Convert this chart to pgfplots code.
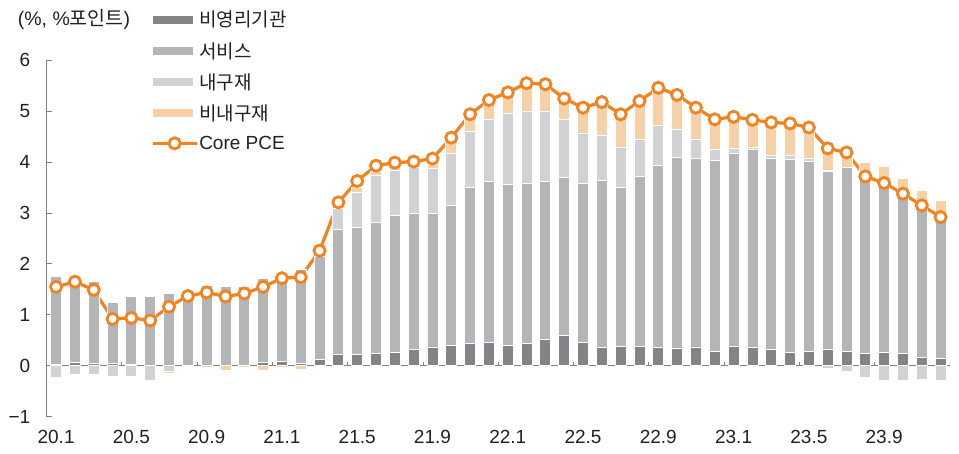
\documentclass[border=0pt]{standalone}
\usepackage{pgfplots}
\pgfplotsset{compat=1.18}
\usepackage{pgfplotstable}
\usepackage{fontspec}
\setmainfont{Liberation Sans}
\newfontfamily\kr{Noto Sans CJK KR}

\definecolor{npgray}{RGB}{130,132,135}
\definecolor{svgray}{RGB}{180,181,183}
\definecolor{dgray}{RGB}{209,210,212}
\definecolor{ndpeach}{RGB}{246,208,166}
\definecolor{pceorange}{RGB}{243,130,32}
\definecolor{axgray}{RGB}{128,128,128}
\definecolor{txt}{RGB}{35,31,32}

% 20.1 ... 23.12, contributions in %p, core PCE yoy in %
\pgfplotstableread{
x  np   sv   dur  nd   durn  ndn   core
0  0.03 1.72 0    0    -0.22 0     1.55
1  0.07 1.58 0    0    -0.17 0     1.65
2  0.04 1.61 0    0    -0.16 0     1.49
3  0.05 1.20 0    0    -0.21 0     0.92
4  0.02 1.34 0    0    -0.20 -0.02 0.94
5  0.00 1.36 0    0    -0.29 0     0.89
6  0.01 1.41 0    0    -0.12 -0.02 1.16
7  0.01 1.41 0    0    0     -0.02 1.37
8  0.01 1.57 0    0    0     -0.04 1.44
9  0.01 1.54 0    0    0     -0.09 1.36
10 0.01 1.54 0    0    0     -0.04 1.42
11 0.06 1.66 0    0    0     -0.10 1.55
12 0.08 1.70 0    0    0     -0.04 1.72
13 0.05 1.85 0    0    0     -0.08 1.74
14 0.12 2.03 0.06 0.04 0     0     2.26
15 0.22 2.45 0.43 0.10 0     0     3.21
16 0.23 2.48 0.69 0.10 0     0     3.63
17 0.25 2.57 0.92 0.07 0     0     3.93
18 0.27 2.68 0.89 0.05 0     0     3.99
19 0.32 2.68 0.89 0.06 0     0     4.01
20 0.37 2.63 0.88 0.08 0     0     4.07
21 0.40 2.75 1.02 0.21 0     0     4.48
22 0.44 3.07 1.10 0.30 0     0     4.94
23 0.46 3.16 1.21 0.37 0     0     5.22
24 0.40 3.17 1.38 0.40 0     0     5.37
25 0.44 3.15 1.40 0.55 0     0     5.55
26 0.52 3.10 1.37 0.54 0     0     5.53
27 0.60 3.10 1.13 0.42 0     0     5.25
28 0.45 3.13 0.99 0.50 0     0     5.07
29 0.36 3.28 0.89 0.65 0     0     5.18
30 0.38 3.13 0.77 0.68 0     0     4.94
31 0.38 3.34 0.73 0.75 0     0     5.20
32 0.36 3.57 0.79 0.74 0     0     5.46
33 0.35 3.74 0.55 0.68 0     0     5.32
34 0.37 3.70 0.38 0.62 0     0     5.07
35 0.29 3.74 0.22 0.61 0     0     4.84
36 0.38 3.79 0.09 0.63 0     0     4.89
37 0.36 3.89 0.03 0.55 0     0     4.83
38 0.33 3.74 0.06 0.65 0     0     4.78
39 0.26 3.79 0.08 0.63 0     0     4.76
40 0.29 3.72 0.06 0.61 0     0     4.68
41 0.32 3.50 0.02 0.43 -0.06 0     4.27
42 0.29 3.61 0    0.30 -0.11 0     4.19
43 0.24 3.48 0    0.28 -0.23 0     3.72
44 0.27 3.31 0    0.34 -0.29 0     3.59
45 0.24 3.06 0    0.38 -0.28 0     3.38
46 0.17 2.90 0    0.37 -0.27 0     3.15
47 0.14 2.73 0    0.38 -0.28 0     2.92
}\pcedata

\pgfplotsset{
  pcebase/.style={
    scale only axis, width=903.3pt, height=356.4pt,
    xmin=-0.5, xmax=47.5, ymin=-1, ymax=6,
    at={(0pt,0pt)}, anchor=south west,
    ybar stacked, bar width=11pt,
  },
  seg/.style={fill=#1, draw=white, line width=0.8pt,
    legend image code/.code={\fill[##1] (0pt,-4.5pt) rectangle (41pt,4.5pt);}},
  pceline/.style={stack plots=false, sharp plot, pceorange, line width=3.2pt,
    mark=*, mark size=5.6pt,
    mark options={fill=white, draw=pceorange, line width=2.8pt},
    legend image code/.code={\draw[mark repeat=2, mark phase=2, ##1]
      plot coordinates {(0pt,0pt) (22pt,0pt) (44pt,0pt)};}},
}

\begin{document}
\begin{tikzpicture}
\useasboundingbox (-46.7pt,-37.3pt) rectangle (912.3pt,416.7pt);

% negative contributions
\begin{axis}[pcebase, hide axis]
\addplot[seg=dgray] table[x=x,y=durn]{\pcedata};
\addplot[seg=ndpeach] table[x=x,y=ndn]{\pcedata};
\end{axis}

% positive contributions and core PCE
\begin{axis}[pcebase,
  axis y line*=left, axis x line*=bottom,
  axis line style={axgray, line width=1pt},
  x axis line style={draw=none},
  xtick={0,4,...,44},
  xticklabels={20.1,20.5,20.9,21.1,21.5,21.9,22.1,22.5,22.9,23.1,23.5,23.9},
  xtick style={draw=none},
  ytick={-1,0,...,6},
  yticklabels={−1,0,1,2,3,4,5,6},
  ytick style={axgray, line width=1pt},
  tick align=inside, major tick length=5pt,
  ticklabel style={font=\fontsize{19}{21}\selectfont, text=txt},
  yticklabel style={xshift=-13pt},
  xticklabel style={yshift=-10pt},
  legend style={at={(axis description cs:0.112,1.147)}, anchor=north west,
    draw=none, fill=none, font=\fontsize{19}{21}\selectfont, text=txt,
    row sep=12pt, nodes={inner sep=1pt}},
  legend cell align=left,
]
\addplot[seg=npgray] table[x=x,y=np]{\pcedata};
\addplot[seg=svgray] table[x=x,y=sv]{\pcedata};
\addplot[seg=dgray] table[x=x,y=dur]{\pcedata};
\addplot[seg=ndpeach] table[x=x,y=nd]{\pcedata};
\addplot[pceline] table[x=x,y=core]{\pcedata};
\legend{{\kr 비영리기관},{\kr 서비스},{\kr 내구재},{\kr 비내구재},Core PCE}

\draw[axgray, line width=1pt] (axis cs:-0.5,0) -- (axis cs:47.5,0);
\draw[axgray, line width=1pt]
  (axis cs:3.5,0) -- ++(0pt,4pt) (axis cs:7.5,0) -- ++(0pt,4pt)
  (axis cs:11.5,0) -- ++(0pt,4pt) (axis cs:15.5,0) -- ++(0pt,4pt)
  (axis cs:19.5,0) -- ++(0pt,4pt) (axis cs:23.5,0) -- ++(0pt,4pt)
  (axis cs:27.5,0) -- ++(0pt,4pt) (axis cs:31.5,0) -- ++(0pt,4pt)
  (axis cs:35.5,0) -- ++(0pt,4pt) (axis cs:39.5,0) -- ++(0pt,4pt)
  (axis cs:43.5,0) -- ++(0pt,4pt) (axis cs:47.5,0) -- ++(0pt,4pt);
\end{axis}

\node[anchor=west, inner sep=0pt, text=txt, font=\fontsize{19.5}{21}\selectfont]
  at (-29pt,397pt) {(\%, \%{\kr 포인트})};
\end{tikzpicture}
\end{document}
